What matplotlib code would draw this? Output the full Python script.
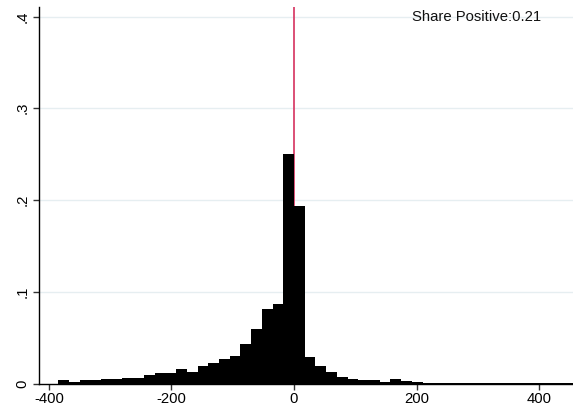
import numpy as np
import matplotlib
matplotlib.use("Agg")
import matplotlib.pyplot as plt

plt.rcParams['font.family'] = ['Liberation Sans', 'DejaVu Sans']

# histogram (fraction per bin), bins of width 17.5 starting at -385
bin_start = -385.0
bin_width = 17.5
fractions = [
    0.0036, 0.0018, 0.0033, 0.0033, 0.0047, 0.0044, 0.0065, 0.0065,
    0.0098, 0.0118, 0.0120, 0.0153, 0.0130, 0.0187, 0.0220, 0.0262,
    0.0296, 0.0436, 0.0598, 0.0815, 0.0872, 0.2507,
    0.1940, 0.0286, 0.0196, 0.0130, 0.0076, 0.0054, 0.0033, 0.0033,
    0.0020, 0.0044, 0.0030, 0.0020, 0.0010, 0.0008, 0.0006, 0.0009,
    0.0005, 0.0008, 0.0006, 0.0009, 0.0005, 0.0007, 0.0006, 0.0008,
    0.0005, 0.0007,
]
share_positive = 0.21

xticks = [-400, -200, 0, 200, 400]
yticks = [0, 0.1, 0.2, 0.3, 0.4]
ytick_labels = ["0", ".1", ".2", ".3", ".4"]

edges = bin_start + bin_width * np.arange(len(fractions))

fig = plt.figure(figsize=(5.73, 4.08), dpi=100)
ax = fig.add_axes([0.0686, 0.060, 0.9314, 0.9228])

for y in yticks[1:]:
    ax.axhline(y, color="#e6eef1", lw=1.0, zorder=0)

ax.axvline(0, color="#d9416b", lw=1.3, zorder=1)
ax.bar(edges, fractions, width=bin_width, align="edge",
       color="black", edgecolor="none", zorder=2)

ax.text(403, 0.4, "Share Positive:" + f"{share_positive:.2f}",
        ha="right", va="center", fontsize=10.7, color="#111111")

ax.set_xlim(-415.8, 455.5)
ax.set_ylim(0, 0.4104)
ax.set_xticks(xticks)
ax.set_xticklabels([str(t) for t in xticks], fontsize=10.7)
ax.set_yticks(yticks)
ax.set_yticklabels(ytick_labels, fontsize=10.7, rotation=90, va="center")

for side in ["top", "right"]:
    ax.spines[side].set_visible(False)
for side in ["left", "bottom"]:
    ax.spines[side].set_linewidth(1.0)
    ax.spines[side].set_color("black")
ax.tick_params(axis="both", direction="out", length=4, width=1.0,
               color="#333333", pad=2)
ax.tick_params(axis="y", pad=3)

fig.savefig("out.png", dpi=100)
